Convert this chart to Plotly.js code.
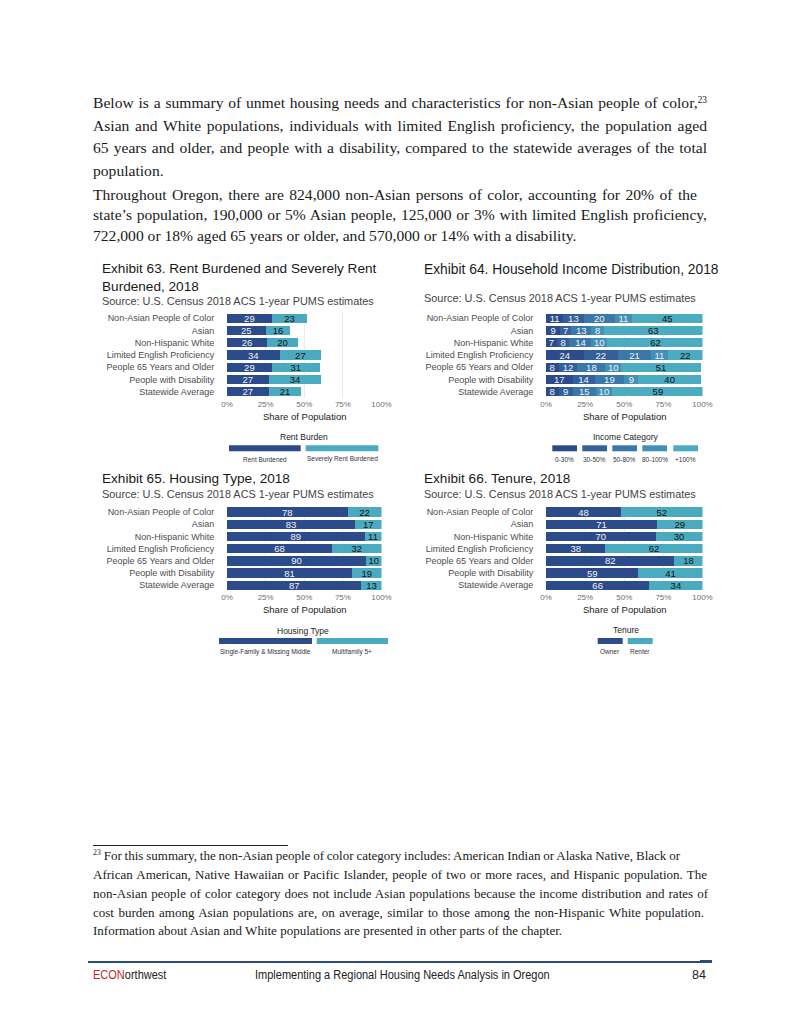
<!DOCTYPE html>
<html><head><meta charset="utf-8">
<script src="https://cdn.plot.ly/plotly-3.0.1.min.js"></script>
<style>
body{margin:0;background:#fff;}
#page{position:relative;width:800px;height:1035px;overflow:hidden;background:#fff;}
#chart{position:absolute;left:0;top:0;width:800px;height:1035px;}
.ln{position:absolute;left:93px;white-space:nowrap;font-family:"Liberation Serif",serif;color:#1a1a1a;}
.body{font-size:15.6px;line-height:20px;}
.fn{font-size:13px;line-height:16px;}
.ln sup{font-size:0.6em;vertical-align:0;position:relative;top:-0.6em;}
.foot{position:absolute;font-family:"Liberation Sans",Arial,sans-serif;font-size:12.5px;line-height:14px;color:#222;white-space:nowrap;transform:scaleX(0.88);transform-origin:left center;}
</style></head>
<body>
<div id="page">
<div id="chart"></div>
<div id="text"></div>
<div style="position:absolute;left:93px;top:845px;width:195px;height:1px;background:#222;"></div>
<div style="position:absolute;left:88px;top:961px;width:624px;height:1.5px;background:#2c4a7e;"></div>
<div style="position:absolute;left:700px;top:960px;width:12px;height:3px;background:#2c4a7e;"></div>
<div class="foot" style="left:93px;top:968px;"><span style="color:#c0282d">ECON</span>orthwest</div>
<div class="foot" style="left:255px;top:968px;">Implementing a Regional Housing Needs Analysis in Oregon</div>
<div class="foot" style="left:692px;top:968px;transform:none;">84</div>
</div>
<script>
// ---------- data ----------
const categories = ["Non-Asian People of Color","Asian","Non-Hispanic White","Limited English Proficiency","People 65 Years and Older","People with Disability","Statewide Average"];
const rentBurdened = [29,25,26,34,29,27,27];
const severelyRentBurdened = [23,16,20,27,31,34,21];
const income0to30 = [11,9,7,24,8,17,8];
const income30to50 = [13,7,8,22,12,14,9];
const income50to80 = [20,13,14,21,18,19,15];
const income80to100 = [11,8,10,11,10,9,10];
const income100plus = [45,63,62,22,51,40,59];
const singleFamily = [78,83,89,68,90,81,87];
const multifamily = [22,17,11,32,10,19,13];
const owner = [48,71,70,38,82,59,66];
const renter = [52,29,30,62,18,41,34];
const xTickVals = [0,25,50,75,100];
const xTickText = ["0%","25%","50%","75%","100%"];
const rentLegend = ["Rent Burdened","Severely Rent Burdened"];
const incomeLegend = ["0-30%","30-50%","50-80%","80-100%","+100%"];
const housingLegend = ["Single-Family & Missing Middle","Multifamily 5+"];
const tenureLegend = ["Owner","Renter"];

// ---------- text ----------
const bodyLines = [
 {t:'Below is a summary of unmet housing needs and characteristics for non-Asian people of color,<sup>23</sup>', y:105, r:707},
 {t:'Asian and White populations, individuals with limited English proficiency, the population aged', y:127.5, r:707},
 {t:'65 years and older, and people with a disability, compared to the statewide averages of the total', y:150, r:707},
 {t:'population.', y:172.5, r:null},
 {t:'Throughout Oregon, there are 824,000 non-Asian persons of color, accounting for 20% of the', y:196.5, r:697},
 {t:'state’s population, 190,000 or 5% Asian people, 125,000 or 3% with limited English proficiency,', y:217, r:707},
 {t:'722,000 or 18% aged 65 years or older, and 570,000 or 14% with a disability.', y:237.5, r:null}
];
const fnLines = [
 {t:'<sup>23</sup> For this summary, the non-Asian people of color category includes: American Indian or Alaska Native, Black or', y:857, r:680},
 {t:'African American, Native Hawaiian or Pacific Islander, people of two or more races, and Hispanic population. The', y:876, r:707},
 {t:'non-Asian people of color category does not include Asian populations because the income distribution and rates of', y:895, r:708},
 {t:'cost burden among Asian populations are, on average, similar to those among the non-Hispanic White population.', y:914, r:704},
 {t:'Information about Asian and White populations are presented in other parts of the chapter.', y:932.5, r:null}
];
const textDiv = document.getElementById('text');
const made = [];
function addLines(lines, cls, lh, fs){
  lines.forEach(l=>{
    const d=document.createElement('div');
    d.className='ln '+cls;
    d.innerHTML=l.t;
    d.style.top=(l.y - lh/2 - 0.1*fs)+'px';
    textDiv.appendChild(d);
    made.push({d:d, r:l.r});
  });
}
addLines(bodyLines,'body',20,15.6);
addLines(fnLines,'fn',16,13);
function fit(){
  made.forEach(m=>{
    if(!m.r) return;
    m.d.style.wordSpacing='0px';
    const w=m.d.getBoundingClientRect().width;
    const target=m.r-93;
    const n=(m.d.textContent.match(/ /g)||[]).length;
    if(n>0) m.d.style.wordSpacing=((target-w)/n)+'px';
  });
}
fit();
if(document.fonts && document.fonts.ready) document.fonts.ready.then(fit);

// ---------- chart ----------
const W=800, H=1035;
const px=x=>x/W, py=y=>1-y/H;
const dark='#2c4b8a', teal='#4aabc0';
const incomeColors=['#2c4b8a','#33609b','#3a78aa','#4290b6','#4babc1'];
const FONT='Liberation Sans, Arial, sans-serif';
const panels=[
 {ax:'',  x:[227,381.5], y:[312.2,397.8]},
 {ax:'2', x:[546,702.5], y:[312.2,397.8]},
 {ax:'3', x:[227,381.5], y:[505.9,591.4]},
 {ax:'4', x:[546,702.5], y:[505.9,591.4]}
];
function bar(vals,color,txt,ax,name){
  return {type:'bar',orientation:'h',y:categories,x:vals,name:name,
    xaxis:'x'+ax,yaxis:'y'+ax,marker:{color:color,line:{width:0}},
    text:vals.map(String),textposition:'inside',insidetextanchor:'middle',
    textangle:0,constraintext:'none',
    textfont:{family:FONT,size:9.5,color:txt},hoverinfo:'skip'};
}
const traces=[
 bar(rentBurdened,dark,'#f2f2f2','',rentLegend[0]),
 bar(severelyRentBurdened,teal,'#111','',rentLegend[1]),
 bar(income0to30,incomeColors[0],'#f2f2f2','2',incomeLegend[0]),
 bar(income30to50,incomeColors[1],'#f2f2f2','2',incomeLegend[1]),
 bar(income50to80,incomeColors[2],'#f2f2f2','2',incomeLegend[2]),
 bar(income80to100,incomeColors[3],'#f2f2f2','2',incomeLegend[3]),
 bar(income100plus,incomeColors[4],'#111','2',incomeLegend[4]),
 bar(singleFamily,dark,'#f2f2f2','3',housingLegend[0]),
 bar(multifamily,teal,'#111','3',housingLegend[1]),
 bar(owner,dark,'#f2f2f2','4',tenureLegend[0]),
 bar(renter,teal,'#111','4',tenureLegend[1])
];
const layout={width:W,height:H,margin:{l:0,r:0,t:0,b:0},
  paper_bgcolor:'rgba(0,0,0,0)',plot_bgcolor:'rgba(0,0,0,0)',
  barmode:'stack',bargap:0.24,showlegend:false,
  font:{family:FONT},annotations:[],shapes:[]};
panels.forEach(p=>{
  layout['xaxis'+p.ax]={domain:[px(p.x[0]),px(p.x[1])],range:[0,100],
    tickvals:xTickVals,ticktext:xTickText,showgrid:true,gridcolor:'#ebebeb',gridwidth:1,
    zeroline:false,showline:false,ticks:'',tickfont:{family:FONT,size:8,color:'#707070'},
    anchor:'y'+p.ax,fixedrange:true};
  layout['yaxis'+p.ax]={domain:[py(p.y[1]),py(p.y[0])],type:'category',
    categoryorder:'array',categoryarray:categories,autorange:'reversed',
    showgrid:false,zeroline:false,ticks:'outside',ticklen:10,tickcolor:'rgba(0,0,0,0)',
    tickfont:{family:FONT,size:9,color:'#4d4d4d'},anchor:'x'+p.ax,fixedrange:true};
  layout.annotations.push({xref:'paper',yref:'paper',x:px((p.x[0]+p.x[1])/2),
    y:py(p.y[1]+18.5),text:'Share of Population',showarrow:false,
    xanchor:'center',yanchor:'middle',font:{family:FONT,size:9.5,color:'#222'}});
});
function ann(text,x,y,size,color,xanchor){
  layout.annotations.push({xref:'paper',yref:'paper',x:px(x),y:py(y),text:text,
    showarrow:false,xanchor:xanchor||'center',yanchor:'middle',
    font:{family:FONT,size:size,color:color}});
}
// titles
ann('Exhibit 63. Rent Burdened and Severely Rent',99.5,269,13.6,'#1a1a1a','left');
ann('Burdened, 2018',99.5,286,13.6,'#1a1a1a','left');
ann('Source: U.S. Census 2018 ACS 1-year PUMS estimates',99.5,301,10.9,'#444','left');
ann('Exhibit 64. Household Income Distribution, 2018',421.5,269.5,13.8,'#1a1a1a','left');
ann('Source: U.S. Census 2018 ACS 1-year PUMS estimates',421.5,298,10.9,'#444','left');
ann('Exhibit 65. Housing Type, 2018',99.5,479,13.6,'#1a1a1a','left');
ann('Source: U.S. Census 2018 ACS 1-year PUMS estimates',99.5,494,10.9,'#444','left');
ann('Exhibit 66. Tenure, 2018',421.5,479,13.6,'#1a1a1a','left');
ann('Source: U.S. Census 2018 ACS 1-year PUMS estimates',421.5,494,10.9,'#444','left');
// legends
function legend(title,tx,ty,keys,labels,colors,ky,ly){
  ann(title,tx,ty,8.5,'#222','center');
  keys.forEach((k,i)=>{
    layout.shapes.push({type:'rect',xref:'paper',yref:'paper',x0:px(k[0]),x1:px(k[1]),
      y0:py(ky+3),y1:py(ky-3),fillcolor:colors[i],line:{width:0}});
    ann(labels[i],(k[0]+k[1])/2,ly,6.5,'#333','center');
  });
}
legend('Rent Burden',303.5,436.7,[[229,300.7],[305.7,378.3]],rentLegend,[dark,teal],448.3,459);
legend('Income Category',625,436.7,[[552.3,577],[582.3,607],[612.3,637],[642.3,667],[673.3,698]],incomeLegend,incomeColors,448.3,459);
legend('Housing Type',303,630.7,[[219,312],[316.7,388]],housingLegend,[dark,teal],641,651.7);
legend('Tenure',625.5,630,[[597.7,622.7],[627.7,652.7]],tenureLegend,[dark,teal],641,651.7);

Plotly.newPlot('chart',traces,layout,{staticPlot:true,displayModeBar:false});
</script>
</body></html>
